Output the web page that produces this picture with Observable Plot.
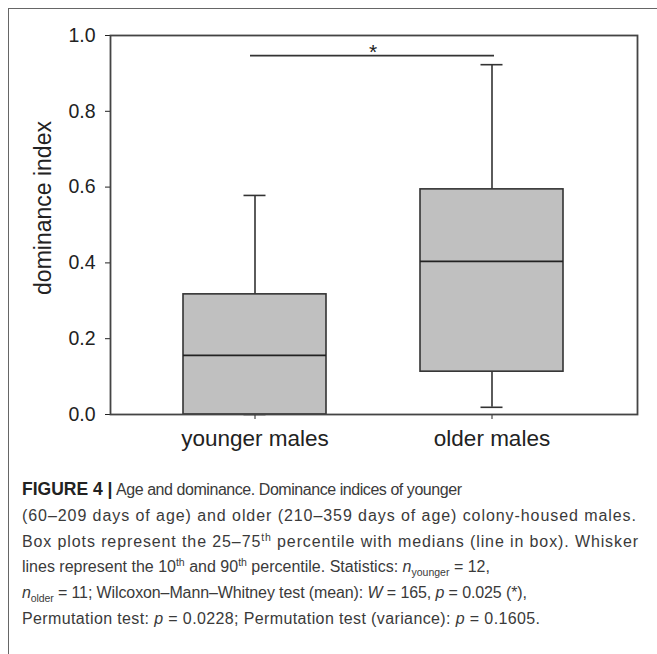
<!DOCTYPE html>
<html>
<head>
<meta charset="utf-8">
<script src="https://cdn.jsdelivr.net/npm/d3@7"></script>
<script src="https://cdn.jsdelivr.net/npm/@observablehq/plot@0.6"></script>
<style>
  html, body { margin: 0; padding: 0; background: #fff; }
  #page { position: relative; width: 657px; height: 654px; overflow: hidden; font-family: "Liberation Sans", Arial, sans-serif; }
  #outer { position: absolute; left: 8px; top: 8px; width: 700px; height: 700px; border-left: 1.5px solid #666; border-top: 1.5px solid #666; box-sizing: border-box; }
  #chart { position: absolute; left: 0; top: 0; }
  #caption { position: absolute; left: 22px; top: 477px; font-size: 16px; line-height: 25.8px; color: #3a3a3a; }
  #caption div { white-space: nowrap; width: max-content; }
  #caption b { color: #222; font-size: 17.5px; line-height: 0; }
  #caption sub, #caption sup { font-size: 10.5px; line-height: 0; }
</style>
</head>
<body>
<div id="page">
  <div id="outer"></div>
  <div id="chart"></div>
  <div id="caption">
    <div><b id="fig">FIGURE 4 |</b> <span id="rest1">Age and dominance. Dominance indices of younger</span></div>
    <div class="ln">(60–209 days of age) and older (210–359 days of age) colony-housed males.</div>
    <div class="ln">Box plots represent the 25–75<sup>th</sup> percentile with medians (line in box). Whisker</div>
    <div class="ln">lines represent the 10<sup>th</sup> and 90<sup>th</sup> percentile. Statistics: <i>n</i><sub>younger</sub> = 12,</div>
    <div class="ln"><i>n</i><sub>older</sub> = 11; Wilcoxon–Mann–Whitney test (mean): <i>W</i> = 165, <i>p</i> = 0.025 (*),</div>
    <div class="ln">Permutation test: <i>p</i> = 0.0228; Permutation test (variance): <i>p</i> = 0.1605.</div>
  </div>
</div>
<script>
const groups = ["younger males", "older males"];
const p10 = [0.0, 0.019];
const q1 = [0.0, 0.113];
const median = [0.156, 0.404];
const q3 = [0.317, 0.594];
const p90 = [0.578, 0.923];
const yTicks = [0, 0.2, 0.4, 0.6, 0.8, 1.0];
const yLabel = "dominance index";
const sigFrom = "younger males";
const sigTo = "older males";
const sigY = 0.947;
const sigText = "*";

const rows = groups.map((g, i) => ({group: g, p10: p10[i], q1: q1[i], median: median[i], q3: q3[i], p90: p90[i]}));

const ink = "#333";
const chart = Plot.plot({
  width: 657,
  height: 470,
  marginLeft: 110,
  marginRight: 20,
  marginTop: 35,
  marginBottom: 56,
  style: {fontFamily: "Liberation Sans, Arial, sans-serif", color: "#222", background: "transparent"},
  x: {type: "band", domain: groups, paddingInner: 0.395, paddingOuter: 0.305},
  y: {domain: [0, 1]},
  marks: [
    Plot.ruleX(rows, {x: "group", y1: "q3", y2: "p90", stroke: ink, strokeWidth: 1.6}),
    Plot.ruleX(rows, {x: "group", y1: "p10", y2: "q1", stroke: ink, strokeWidth: 1.6}),
    Plot.tickY(rows, {x: "group", y: "p90", insetLeft: 60.5, insetRight: 60.5, stroke: ink, strokeWidth: 1.6}),
    Plot.tickY(rows, {x: "group", y: "p10", insetLeft: 60.5, insetRight: 60.5, stroke: ink, strokeWidth: 1.6}),
    Plot.barY(rows, {x: "group", y1: "q1", y2: "q3", fill: "#c0c0c0", stroke: ink, strokeWidth: 1.6}),
    Plot.tickY(rows, {x: "group", y: "median", stroke: "#222", strokeWidth: 1.6}),
    Plot.ruleY([{a: sigFrom, b: sigTo, y: sigY}], {x1: "a", x2: "b", y: "y", insetLeft: 67, insetRight: 69, stroke: ink, strokeWidth: 1.6}),
    Plot.text([{t: sigText, y: sigY}], {y: "y", text: "t", fontSize: 21, dx: -1, dy: 3, lineAnchor: "bottom", fill: "#222"}),
    Plot.axisY({ticks: yTicks, tickFormat: d3.format(".1f"), tickSize: 5, tickPadding: 10, fontSize: 19.5, label: null}),
    Plot.axisX({tickSize: 5, tickPadding: 11, fontSize: 22.5, label: null}),
    Plot.text([yLabel], {frameAnchor: "left", rotate: -90, textAnchor: "middle", dx: -67, dy: -17, fontSize: 23, fill: "#222", text: d => d}),
    Plot.frame({stroke: "#444", strokeWidth: 1.8})
  ]
});
document.getElementById("chart").appendChild(chart);

// fit caption lines to the reference's ragged right edges
const captionRight = [462, 636, 638, 490, 527, 540];
function fit(el, right) {
  const r = el.getBoundingClientRect();
  const n = el.textContent.length;
  const ls = (right - r.left - r.width) / Math.max(1, n - 1);
  el.style.letterSpacing = ls.toFixed(3) + "px";
}
fit(document.getElementById("rest1"), captionRight[0]);
document.querySelectorAll("#caption .ln").forEach((el, i) => fit(el, captionRight[i + 1]));
</script>
</body>
</html>
